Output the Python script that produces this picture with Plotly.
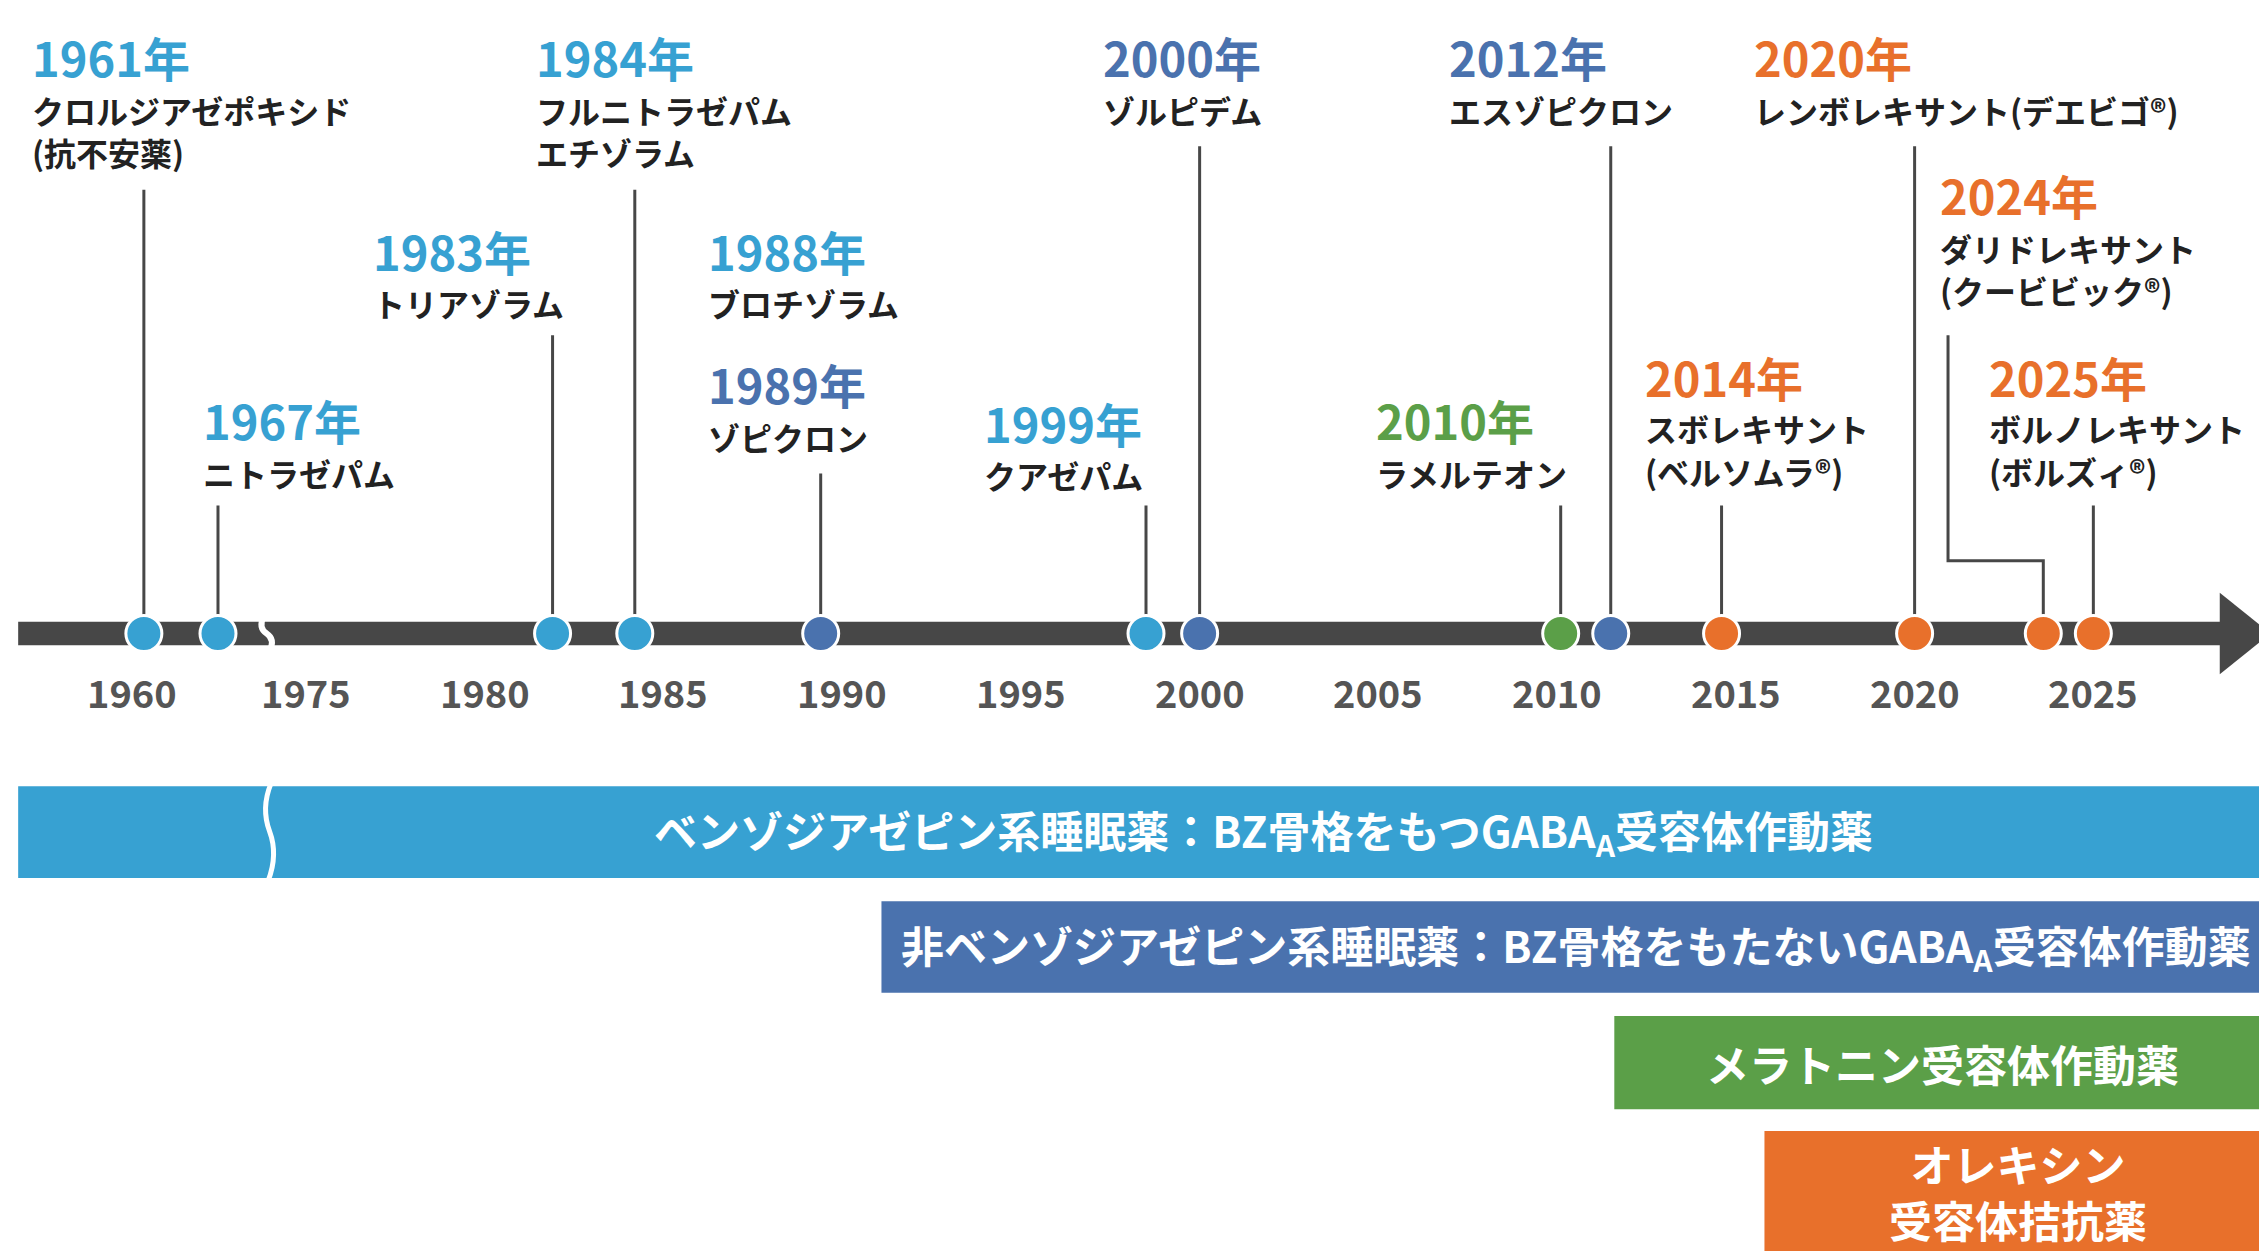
import plotly.graph_objects as go

# ---------------- data ----------------
tick_years = [1960, 1975, 1980, 1985, 1990, 1995, 2000, 2005, 2010, 2015, 2020, 2025]
event_labels = ["1961年", "1967年", "1983年", "1984年", "1989年", "1999年", "2000年",
                "2010年", "2012年", "2014年", "2020年", "2024年", "2025年"]
event_pos_years = [1961, 1967, 1981.9, 1984.2, 1989.4, 1998.5, 2000.0,
                   2010.1, 2011.5, 2014.6, 2020.0, 2023.6, 2025.0]
event_groups = ["bz", "bz", "bz", "bz", "nbz", "bz", "nbz", "mel", "nbz", "ora", "ora", "ora", "ora"]
class_names = ["ベンゾジアゼピン系睡眠薬：BZ骨格をもつGABA<sub>A</sub>受容体作動薬",
               "非ベンゾジアゼピン系睡眠薬：BZ骨格をもたないGABA<sub>A</sub>受容体作動薬",
               "メラトニン受容体作動薬",
               "オレキシン<br>受容体拮抗薬"]
class_start_years = [1950, 1991.1, 2011.6, 2015.8]
label_items = [
    ("1961年", ["クロルジアゼポキシド", "(抗不安薬)"], "bz"),
    ("1967年", ["ニトラゼパム"], "bz"),
    ("1983年", ["トリアゾラム"], "bz"),
    ("1984年", ["フルニトラゼパム", "エチゾラム"], "bz"),
    ("1988年", ["ブロチゾラム"], "bz"),
    ("1989年", ["ゾピクロン"], "nbz"),
    ("1999年", ["クアゼパム"], "bz"),
    ("2000年", ["ゾルピデム"], "nbz"),
    ("2010年", ["ラメルテオン"], "mel"),
    ("2012年", ["エスゾピクロン"], "nbz"),
    ("2014年", ["スボレキサント", "(ベルソムラ®)"], "ora"),
    ("2020年", ["レンボレキサント(デエビゴ®)"], "ora"),
    ("2024年", ["ダリドレキサント", "(クービビック®)"], "ora"),
    ("2025年", ["ボルノレキサント", "(ボルズィ®)"], "ora"),
]

# ---------------- style ----------------
COL = {"bz": "#37A1D2", "nbz": "#4A72AE", "mel": "#5B9F48", "ora": "#E8702B"}
GRAY = "#474747"
FONT = "Noto Sans CJK JP"


def pos(y):
    if y < 1975:
        return 85 + (y - 1960) * 8.5
    return 205 + (y - 1975) * 24.6


label_layout = [(15, 33, 70, 125), (133, 283, 320, 342), (250, 167, 203, 225), (362, 33, 70, 125),
                (480, 167, 203, None), (480, 258, 295, 320), (670, 285, 321, 342), (752, 33, 70, 95),
                (940, 283, 320, 342), (990, 33, 70, 95), (1125, 253, 289, 342), (1200, 33, 70, 95),
                (1328, 128, 165, 225), (1362, 253, 289, 342)]
label_event_idx = [0, 1, 2, 3, None, 4, 5, 6, 7, 8, 9, 10, 11, 12]

fig = go.Figure()
shapes = []
ann = []
AY = 430

for (lx, yy, ny, top), ei in zip(label_layout, label_event_idx):
    if ei is None or top is None:
        continue
    x = pos(event_pos_years[ei])
    if event_labels[ei] == "2024年":
        fig.add_trace(go.Scatter(x=[1335, 1335, x, x], y=[top, 380, 380, AY], mode="lines",
                                 line=dict(color=GRAY, width=3), hoverinfo="skip", showlegend=False))
    else:
        fig.add_trace(go.Scatter(x=[x, x], y=[top, AY], mode="lines",
                                 line=dict(color=GRAY, width=3), hoverinfo="skip", showlegend=False))

shapes.append(dict(type="rect", x0=7, x1=1528, y0=422, y1=438, fillcolor=GRAY, line_width=0, layer="below"))
shapes.append(dict(type="path", path="M 1522 402 L 1557 430 L 1522 458 Z", fillcolor=GRAY, line_width=0, layer="below"))
shapes.append(dict(type="path", path="M 176 418 Q 172 426 178 430 Q 184 434 180 442",
                   line=dict(color="white", width=6)))

fig.add_trace(go.Scatter(
    x=[pos(v) for v in event_pos_years], y=[AY] * len(event_pos_years), mode="markers",
    marker=dict(size=36, color=[COL[g] for g in event_groups], line=dict(color="white", width=3)),
    hoverinfo="skip", showlegend=False))

for t in tick_years:
    ann.append(dict(x=pos(t), y=470, text=f"<b>{t}</b>", showarrow=False, xanchor="center", yanchor="middle",
                    font=dict(family=FONT, size=38, color="#555555")))

for (yt, names, g), (lx, yy, ny, top) in zip(label_items, label_layout):
    ann.append(dict(x=lx, y=yy, text=f"<b>{yt}</b>", showarrow=False, xanchor="left", yanchor="middle",
                    font=dict(family=FONT, size=47, color=COL[g])))
    for k, nm in enumerate(names):
        ann.append(dict(x=lx, y=ny + 29 * k, text=f"<b>{nm}</b>", showarrow=False, xanchor="left",
                        yanchor="middle", font=dict(family=FONT, size=32, color="#222222")))

bar_y = [(535, 598), (614, 677), (693, 757), (772, 855)]
bar_col = [COL["bz"], COL["nbz"], COL["mel"], COL["ora"]]
for name, sy, (y0, y1), c in zip(class_names, class_start_years, bar_y, bar_col):
    x0 = max(7, pos(sy))
    cx = (x0 + 1557) / 2 if sy > 1960 else 864
    shapes.append(dict(type="rect", x0=x0, x1=1557, y0=y0, y1=y1, fillcolor=c, line_width=0, layer="below"))
    ann.append(dict(x=cx, y=(y0 + y1) / 2, text=f"<b>{name}</b>",
                    showarrow=False, xanchor="center", yanchor="middle",
                    font=dict(family=FONT, size=43, color="white")))
shapes.append(dict(type="path", path="M 181 533 Q 174 550 180 566 Q 186 582 179 600",
                   line=dict(color="white", width=5)))

fig.update_layout(
    width=2267, height=1251, margin=dict(l=0, r=0, t=0, b=0),
    paper_bgcolor="white", plot_bgcolor="white",
    xaxis=dict(range=[0, 1560], visible=False, fixedrange=True),
    yaxis=dict(range=[860, 0], visible=False, fixedrange=True),
    shapes=shapes, annotations=ann, showlegend=False,
)
fig.write_html("out.html")
